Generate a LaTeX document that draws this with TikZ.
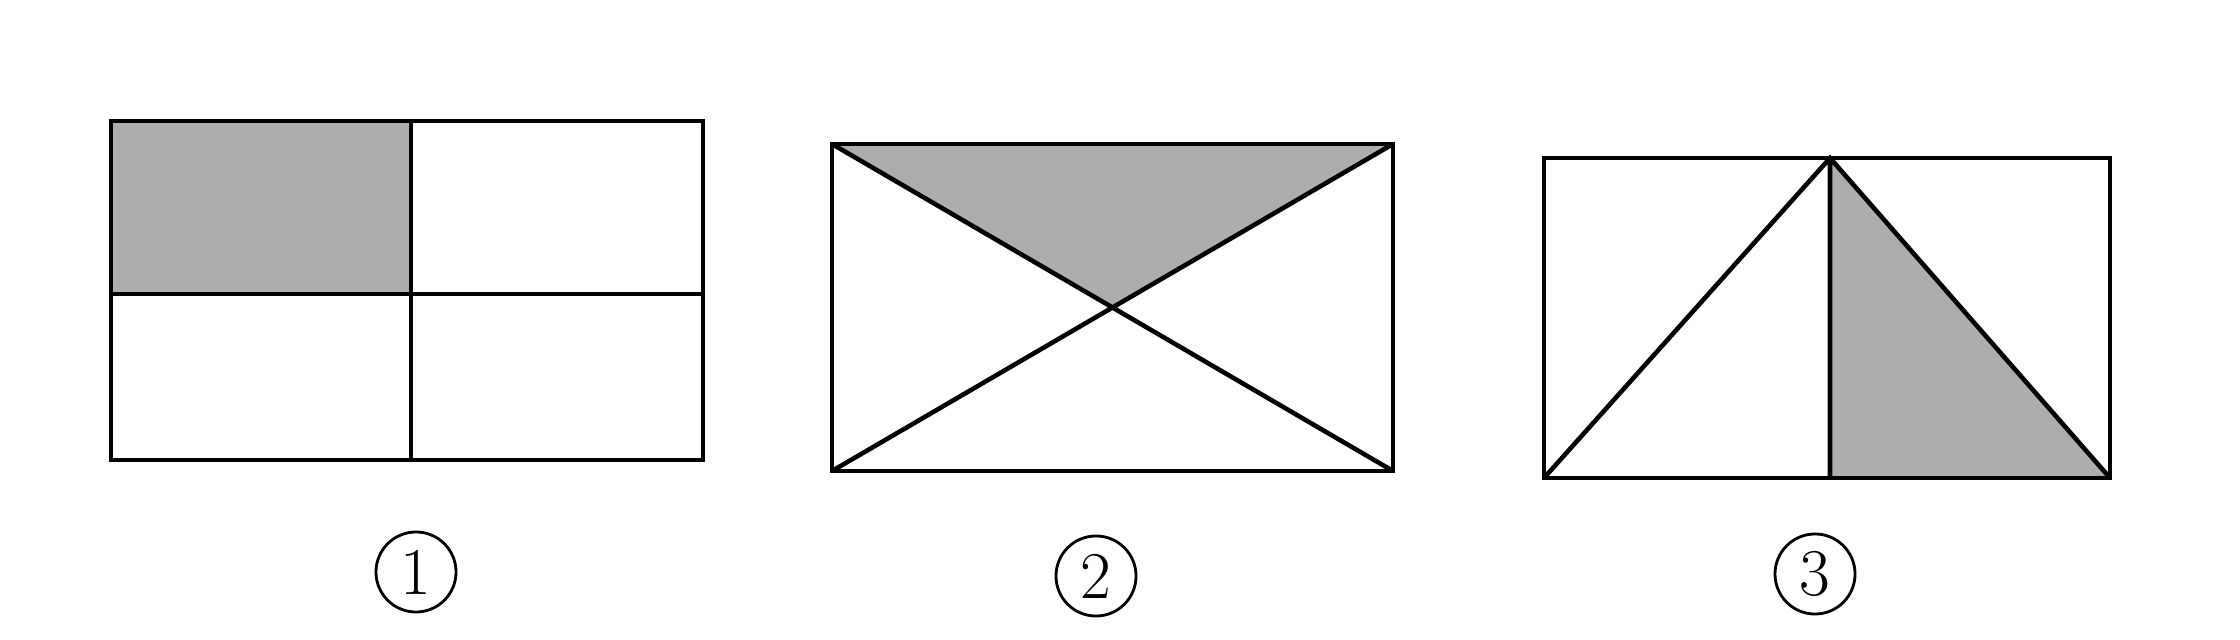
\documentclass[tikz,border=0pt]{standalone}
\usepackage{tikz}
\usetikzlibrary{positioning,calc}

\begin{document}
\begin{tikzpicture}[x=0.01cm,y=-0.01cm,line width=1.3pt,line join=miter]
  \tikzstyle{shaded}=[fill=black!32]
  \tikzstyle{numtag}=[circle,draw,line width=0.8pt,inner sep=0pt,minimum size=0.8cm,
                      font=\fontsize{19}{22}\selectfont]
  \useasboundingbox (0,0) rectangle (2240,640);

  % figure 1: four quarters, top left shaded
  \coordinate (p1) at (111,121);
  \coordinate (q1) at (703,460);
  \coordinate (m1) at (411,294);
  \fill[shaded] (p1) rectangle (m1);
  \draw (p1) rectangle (q1);
  \draw (p1 -| m1) -- (q1 -| m1)
        (p1 |- m1) -- (q1 |- m1);
  \node[numtag] (n1) at (416,572) {1};

  % figure 2: diagonals, top triangle shaded
  \coordinate (p2) at (832,144);
  \coordinate (q2) at (1393,471);
  \coordinate (c2) at ($(p2)!0.5!(q2)$);
  \fill[shaded] (p2) -- (p2 -| q2) -- (c2) -- cycle;
  \draw (p2) rectangle (q2);
  \draw (p2) -- (q2)
        (p2 |- q2) -- (p2 -| q2);
  \node[numtag] (n2) at (1096,576) {2};

  % figure 3: apex on top side, right triangle shaded
  \coordinate (p3) at (1544,158);
  \coordinate (q3) at (2110,478);
  \coordinate (t3) at (1830,158);
  \fill[shaded] (t3) -- (t3 |- q3) -- (q3) -- cycle;
  \draw (p3) rectangle (q3);
  \draw (p3 |- q3) -- (t3) -- (q3)
        (t3) -- (t3 |- q3);
  \node[numtag] (n3) at (1815,574) {3};

\end{tikzpicture}
\end{document}
